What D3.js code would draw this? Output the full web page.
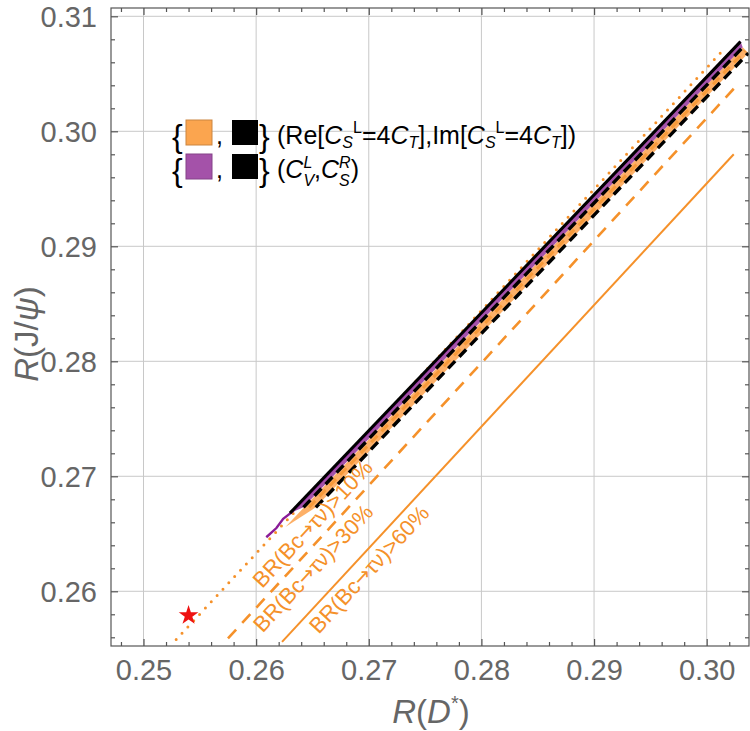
<!DOCTYPE html>
<html>
<head>
<meta charset="utf-8">
<script src="https://cdn.jsdelivr.net/npm/d3@7"></script>
<style>
body { margin: 0; background: #fff; }
svg { display: block; font-family: "Liberation Sans", Arial, sans-serif; }
</style>
</head>
<body>
<svg id="chart" width="750" height="731"></svg>
<script>
// ---DATA---//

var xTicks = [0.25, 0.26, 0.27, 0.28, 0.29, 0.30];
var yTicks = [0.26, 0.27, 0.28, 0.29, 0.30, 0.31];
var xTickLabels = ["0.25", "0.26", "0.27", "0.28", "0.29", "0.30"];
var yTickLabels = ["0.26", "0.27", "0.28", "0.29", "0.30", "0.31"];

// SM point {R(D*), R(J/psi)}
var smPoint = [0.2540, 0.2579];

// BR(Bc -> tau nu) constraint lines
var br10Line = [[0.2529, 0.2558], [0.3014, 0.3070]];
var br30Line = [[0.2575, 0.2559], [0.3024, 0.3037]];
var br60Line = [[0.2623, 0.2556], [0.3024, 0.2980]];
var brPercents = ["10%", "30%", "60%"];
var brLabelPos = [[0.26498, 0.26590], [0.26503, 0.26203], [0.27000, 0.26194]];

// (C_V^L, C_S^R) band
var cvEdge = [[0.2609, 0.2647], [0.2618, 0.2655], [0.2624, 0.2663], [0.2632, 0.2669], [0.3030, 0.3078]];
var cvBand = [[0.2630, 0.2668], [0.3030, 0.3078], [0.3032, 0.3073], [0.2642, 0.2673]];
var cvSolid = [[0.2630, 0.2668], [0.3030, 0.3078]];
var cvDashed = [[0.2642, 0.2673], [0.3032, 0.3073]];

// (Re, Im) of C_S^L = 4 C_T band
var csBand = [[0.2626, 0.2656], [0.3032, 0.3073], [0.3037, 0.3068], [0.2653, 0.2673]];
var csInner = [[0.2647, 0.2673], [0.3034, 0.3070]];
var csDashed = [[0.2653, 0.2673], [0.3037, 0.3068]];

// ---LAYOUT---//

var margin = { left: 111, right: 1, top: 8, bottom: 85 };
var width = 750, height = 731;

var orange = "#F5912A";
var gray = "#666666";

var svg = d3.select("#chart");

var x = d3.scaleLinear().domain([0.247115, 0.303755]).range([margin.left, width - margin.right]);
var y = d3.scaleLinear().domain([0.255243, 0.310722]).range([height - margin.bottom, margin.top]);

var line = d3.line().x(function(d) { return x(d[0]); }).y(function(d) { return y(d[1]); });

var defs = svg.append("defs");
defs.append("clipPath").attr("id", "plotClip").append("rect")
	.attr("x", x.range()[0]).attr("y", y.range()[1])
	.attr("width", x.range()[1] - x.range()[0])
	.attr("height", y.range()[0] - y.range()[1]);

// ---GRID---//

var grid = svg.append("g").attr("class", "grid");
grid.selectAll(".vgrid").data(xTicks).enter().append("line")
	.attr("x1", function(d) { return x(d); }).attr("x2", function(d) { return x(d); })
	.attr("y1", y.range()[0]).attr("y2", y.range()[1])
	.attr("stroke", "#c8c8c8").attr("stroke-width", 1);
grid.selectAll(".hgrid").data(yTicks).enter().append("line")
	.attr("y1", function(d) { return y(d); }).attr("y2", function(d) { return y(d); })
	.attr("x1", x.range()[0]).attr("x2", x.range()[1])
	.attr("stroke", "#c8c8c8").attr("stroke-width", 1);

// ---MARKS---//

var plot = svg.append("g").attr("clip-path", "url(#plotClip)");

plot.append("path").datum(br10Line).attr("d", line)
	.attr("fill", "none").attr("stroke", orange).attr("stroke-width", 3)
	.attr("stroke-linecap", "round").attr("stroke-dasharray", "0,8.6");
plot.append("path").datum(br30Line).attr("d", line)
	.attr("fill", "none").attr("stroke", orange).attr("stroke-width", 2.6)
	.attr("stroke-dasharray", "12,9");
plot.append("path").datum(br60Line).attr("d", line)
	.attr("fill", "none").attr("stroke", orange).attr("stroke-width", 2);

// C_S^L = 4 C_T band
plot.append("path").attr("d", line(csBand) + "Z")
	.attr("fill", "#FDB068").attr("stroke", "none");
plot.append("path").datum(csInner).attr("d", line)
	.attr("fill", "none").attr("stroke", "#F79A3A").attr("stroke-width", 3)
	.attr("stroke-dasharray", "9,6");
plot.append("path").datum(csDashed).attr("d", line)
	.attr("fill", "none").attr("stroke", "#000").attr("stroke-width", 3.4)
	.attr("stroke-dasharray", "10,6");

// C_V^L, C_S^R band
plot.append("path").attr("d", line(cvBand) + "Z")
	.attr("fill", "#A452A9").attr("stroke", "none");
plot.append("path").datum(cvEdge).attr("d", line)
	.attr("fill", "none").attr("stroke", "#8A1C98").attr("stroke-width", 2.4);
plot.append("path").datum(cvSolid).attr("d", line)
	.attr("fill", "none").attr("stroke", "#000").attr("stroke-width", 3);
plot.append("path").datum(cvDashed).attr("d", line)
	.attr("fill", "none").attr("stroke", "#000").attr("stroke-width", 3.4)
	.attr("stroke-dasharray", "10,6");

// SM star
plot.append("path")
	.attr("d", d3.symbol().type(d3.symbolStar).size(120)())
	.attr("transform", "translate(" + x(smPoint[0]) + "," + y(smPoint[1]) + ")")
	.attr("fill", "#EE1111");

// BR labels along the lines
var angle = -Math.atan2(y(br10Line[0][1]) - y(br10Line[1][1]), x(br10Line[1][0]) - x(br10Line[0][0])) * 180 / Math.PI;
var brText = svg.append("g").selectAll("text").data(brPercents).enter().append("text")
	.attr("transform", function(d, i) {
		return "translate(" + x(brLabelPos[i][0]) + "," + y(brLabelPos[i][1]) + ") rotate(" + angle + ")";
	})
	.attr("text-anchor", "middle").attr("dominant-baseline", "central")
	.attr("font-size", 22).attr("fill", orange);
brText.append("tspan").text("BR(Bc");
brText.append("tspan").attr("font-family", "'DejaVu Sans', sans-serif").attr("font-size", 20).text("\u2192");
brText.append("tspan").text("\u03C4\u03BD)>");
brText.append("tspan").text(function(d) { return d; });

// ---FRAME & TICKS---//

var frame = svg.append("g").attr("class", "frame");
frame.append("rect")
	.attr("x", x.range()[0]).attr("y", y.range()[1])
	.attr("width", x.range()[1] - x.range()[0])
	.attr("height", y.range()[0] - y.range()[1])
	.attr("fill", "none").attr("stroke", "#555").attr("stroke-width", 1.2);

var xMinor = d3.range(0.248, 0.3035, 0.002).filter(function(v) { return Math.abs(v * 100 - Math.round(v * 100)) > 1e-6; });
var yMinor = d3.range(0.256, 0.3105, 0.002).filter(function(v) { return Math.abs(v * 100 - Math.round(v * 100)) > 1e-6; });

var bottomAxis = d3.axisBottom(x).tickValues(xTicks).tickSize(-7).tickFormat(function(d, i) { return xTickLabels[i]; }).tickPadding(13);
var leftAxis = d3.axisLeft(y).tickValues(yTicks).tickSize(-7).tickFormat(function(d, i) { return yTickLabels[i]; }).tickPadding(14);

var gx = svg.append("g").attr("transform", "translate(0," + y.range()[0] + ")").call(bottomAxis);
var gy = svg.append("g").attr("transform", "translate(" + x.range()[0] + ",0)").call(leftAxis);
svg.append("g").attr("transform", "translate(0," + y.range()[1] + ")").call(d3.axisTop(x).tickValues(xTicks).tickSize(-7).tickFormat(""));
svg.append("g").attr("transform", "translate(" + x.range()[1] + ",0)").call(d3.axisRight(y).tickValues(yTicks).tickSize(-7).tickFormat(""));

svg.append("g").attr("transform", "translate(0," + y.range()[0] + ")").call(d3.axisBottom(x).tickValues(xMinor).tickSize(-4).tickFormat(""));
svg.append("g").attr("transform", "translate(0," + y.range()[1] + ")").call(d3.axisTop(x).tickValues(xMinor).tickSize(-4).tickFormat(""));
svg.append("g").attr("transform", "translate(" + x.range()[0] + ",0)").call(d3.axisLeft(y).tickValues(yMinor).tickSize(-4).tickFormat(""));
svg.append("g").attr("transform", "translate(" + x.range()[1] + ",0)").call(d3.axisRight(y).tickValues(yMinor).tickSize(-4).tickFormat(""));

svg.selectAll(".domain").remove();
svg.selectAll(".tick line").attr("stroke", "#555").attr("stroke-width", 1.2);
svg.selectAll(".tick text").attr("fill", gray).attr("font-size", 29)
	.attr("font-family", "'Liberation Sans', Arial, sans-serif");
gy.selectAll(".tick text").attr("dy", "0.36em");

// ---AXIS LABELS---//

var xl = svg.append("text").attr("x", 431).attr("y", 723)
	.attr("text-anchor", "middle").attr("font-size", 33).attr("fill", gray);
xl.append("tspan").attr("font-style", "italic").text("R");
xl.append("tspan").text("(");
xl.append("tspan").attr("font-style", "italic").text("D");
xl.append("tspan").attr("font-size", 20).attr("dy", -13).text("*");
xl.append("tspan").attr("dy", 13).text(")");

var yl = svg.append("text").attr("transform", "translate(38,334) rotate(-90)")
	.attr("text-anchor", "middle").attr("font-size", 33).attr("fill", gray);
yl.append("tspan").attr("font-style", "italic").text("R");
yl.append("tspan").text("(J/");
yl.append("tspan").attr("font-style", "italic").text("\u03C8");
yl.append("tspan").text(")");

// ---LEGEND---//

// one row: {swatch, black} followed by a label built from pieces (sub/sup scripts)
function legendRow(g, swatch, pieces, yBase, subDy, supDy) {

	g.append("text").attr("x", 172).attr("y", yBase + 3).attr("font-size", 32).attr("fill", "#000").text("{");
	g.append("rect").attr("x", 186).attr("y", yBase - 24).attr("width", 26).attr("height", 25)
		.attr("fill", swatch).attr("stroke", d3.color(swatch).darker(0.6)).attr("stroke-width", 1);
	g.append("text").attr("x", 216).attr("y", yBase).attr("font-size", 25).attr("fill", "#000").text(",");
	g.append("rect").attr("x", 232).attr("y", yBase - 24).attr("width", 26).attr("height", 25).attr("fill", "#000");
	g.append("text").attr("x", 259).attr("y", yBase + 3).attr("font-size", 32).attr("fill", "#000").text("}");

	var cx = 277, lastW = 0;
	pieces.forEach(function(p) {
		var size = p.shift ? 16 : 25;
		var t = g.append("text").attr("font-size", size).attr("fill", "#000")
			.attr("font-style", p.it ? "italic" : "normal")
			.attr("y", yBase + (p.shift === "sub" ? subDy : p.shift === "sup" ? supDy : 0))
			.text(p.t);
		var px = p.stack ? cx - lastW : cx;
		t.attr("x", px);
		var w = t.node().getComputedTextLength();
		if (p.stack) {
			cx = Math.max(cx, px + w);
		} else {
			cx = px + w;
			lastW = w;
		}
	});

}// END: legendRow

var legend = svg.append("g").attr("class", "legend");

legendRow(legend, "#FBA54F", [
	{ t: "(Re[" }, { t: "C", it: true }, { t: "S", it: true, shift: "sub" }, { t: "L", shift: "sup" },
	{ t: "=4" }, { t: "C", it: true }, { t: "T", it: true, shift: "sub" },
	{ t: "],Im[" }, { t: "C", it: true }, { t: "S", it: true, shift: "sub" }, { t: "L", shift: "sup" },
	{ t: "=4" }, { t: "C", it: true }, { t: "T", it: true, shift: "sub" }, { t: "])" }
], 144, 4, -11);

legendRow(legend, "#A452A9", [
	{ t: "(" }, { t: "C", it: true }, { t: "V", it: true, shift: "sub" }, { t: "L", it: true, shift: "sup", stack: true },
	{ t: "," }, { t: "C", it: true }, { t: "S", it: true, shift: "sub" }, { t: "R", it: true, shift: "sup", stack: true },
	{ t: ")" }
], 178, 8, -10);
</script>
</body>
</html>
